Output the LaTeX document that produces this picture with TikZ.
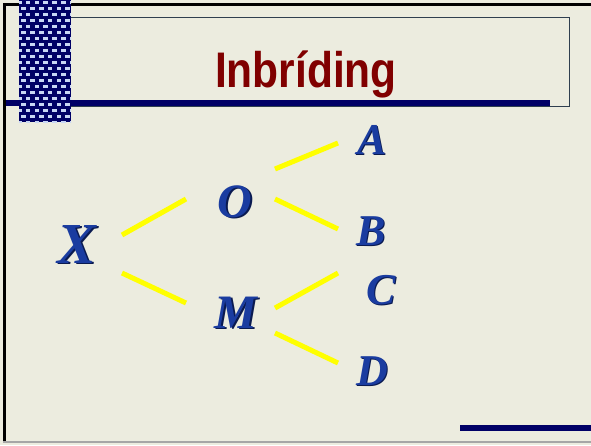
\documentclass[tikz,border=0pt]{standalone}
\usepackage{fontspec}
\setmainfont{Liberation Serif}
\newfontfamily\titlefont{Liberation Sans}
\definecolor{bg}{HTML}{ECECDF}
\definecolor{navy}{HTML}{000066}
\definecolor{checkblue}{HTML}{C8D6F5}
\definecolor{framecol}{HTML}{2F3F4F}
\definecolor{titlered}{HTML}{800000}
\definecolor{letterblue}{HTML}{1A3CA0}
\definecolor{shadowblue}{HTML}{0A1A50}
\definecolor{linkyellow}{HTML}{FFFF00}
\tikzset{
  link/.style={draw=linkyellow, line width=5pt},
  letter/.style={inner sep=0pt, anchor=base, text=letterblue, font=\bfseries\itshape\fontsize{#1}{#1}\selectfont},
  lshadow/.style={inner sep=0pt, anchor=base, text=shadowblue, font=\bfseries\itshape\fontsize{#1}{#1}\selectfont},
}
\begin{document}
\begin{tikzpicture}[x=1pt,y=-1pt]
\useasboundingbox (0,0) rectangle (591,445);
\fill[bg] (0,0) rectangle (591,445);
% outer border
\fill[black] (3,3) rectangle (591,6);
\fill[black] (3,3) rectangle (6,441);
\fill[gray!70] (3,441) rectangle (591,443);
% title frame
\draw[framecol, line width=1pt] (48,17) rectangle (569,106);
\fill[navy] (6,100) rectangle (550,106);
% checkered column
\fill[navy] (19,0) rectangle (71,122);
\begin{scope}
\clip (19,0) rectangle (71,122);
\foreach \j in {0,...,20} {
  \pgfmathsetmacro{\yy}{0.5+\j*6}
  \pgfmathsetmacro{\off}{mod(\j,2)*4.4}
  \foreach \i in {0,...,6} {
    \pgfmathsetmacro{\xx}{17+\off+\i*8.8}
    \fill[checkblue] (\xx,\yy) rectangle ++(4.6,3.8);
  }
}
\end{scope}
% bottom right bar
\fill[navy] (460,425) rectangle (591,431);
% title
\node[inner sep=0pt, anchor=base, text=titlered] (title) at (306,87)
  {\scalebox{0.85}[1]{\titlefont\bfseries\fontsize{50}{50}\selectfont Inbríding}};
% letters (shadow + main)
\node[lshadow=58] (Xs) at (78.5,264.5) {X};
\node[letter=58] (X) at (77,263) {X};
\node[lshadow=48] (Os) at (236.5,218.5) {O};
\node[letter=48] (O) at (235,217) {O};
\node[lshadow=48] (Ms) at (237.5,329.5) {M};
\node[letter=48] (M) at (236,328) {M};
\node[lshadow=44] (As) at (373.5,155.5) {A};
\node[letter=44] (A) at (372,154) {A};
\node[lshadow=44] (Bs) at (372.5,246.5) {B};
\node[letter=44] (B) at (371,245) {B};
\node[lshadow=44] (Cs) at (382.5,305.5) {C};
\node[letter=44] (C) at (381,304) {C};
\node[lshadow=44] (Ds) at (373.5,386.5) {D};
\node[letter=44] (D) at (372,385) {D};
% connector end points
\coordinate (xo1) at (122,235);
\coordinate (xo2) at (186,199);
\coordinate (xm1) at (122,273);
\coordinate (xm2) at (186,303);
\coordinate (oa1) at (275,169);
\coordinate (oa2) at (338,143);
\coordinate (ob1) at (275,199);
\coordinate (ob2) at (338,229);
\coordinate (mc1) at (275,308);
\coordinate (mc2) at (338,273);
\coordinate (md1) at (275,333);
\coordinate (md2) at (338,363);
\draw[link] (xo1) -- (xo2);
\draw[link] (xm1) -- (xm2);
\draw[link] (oa1) -- (oa2);
\draw[link] (ob1) -- (ob2);
\draw[link] (mc1) -- (mc2);
\draw[link] (md1) -- (md2);
\end{tikzpicture}
\end{document}
